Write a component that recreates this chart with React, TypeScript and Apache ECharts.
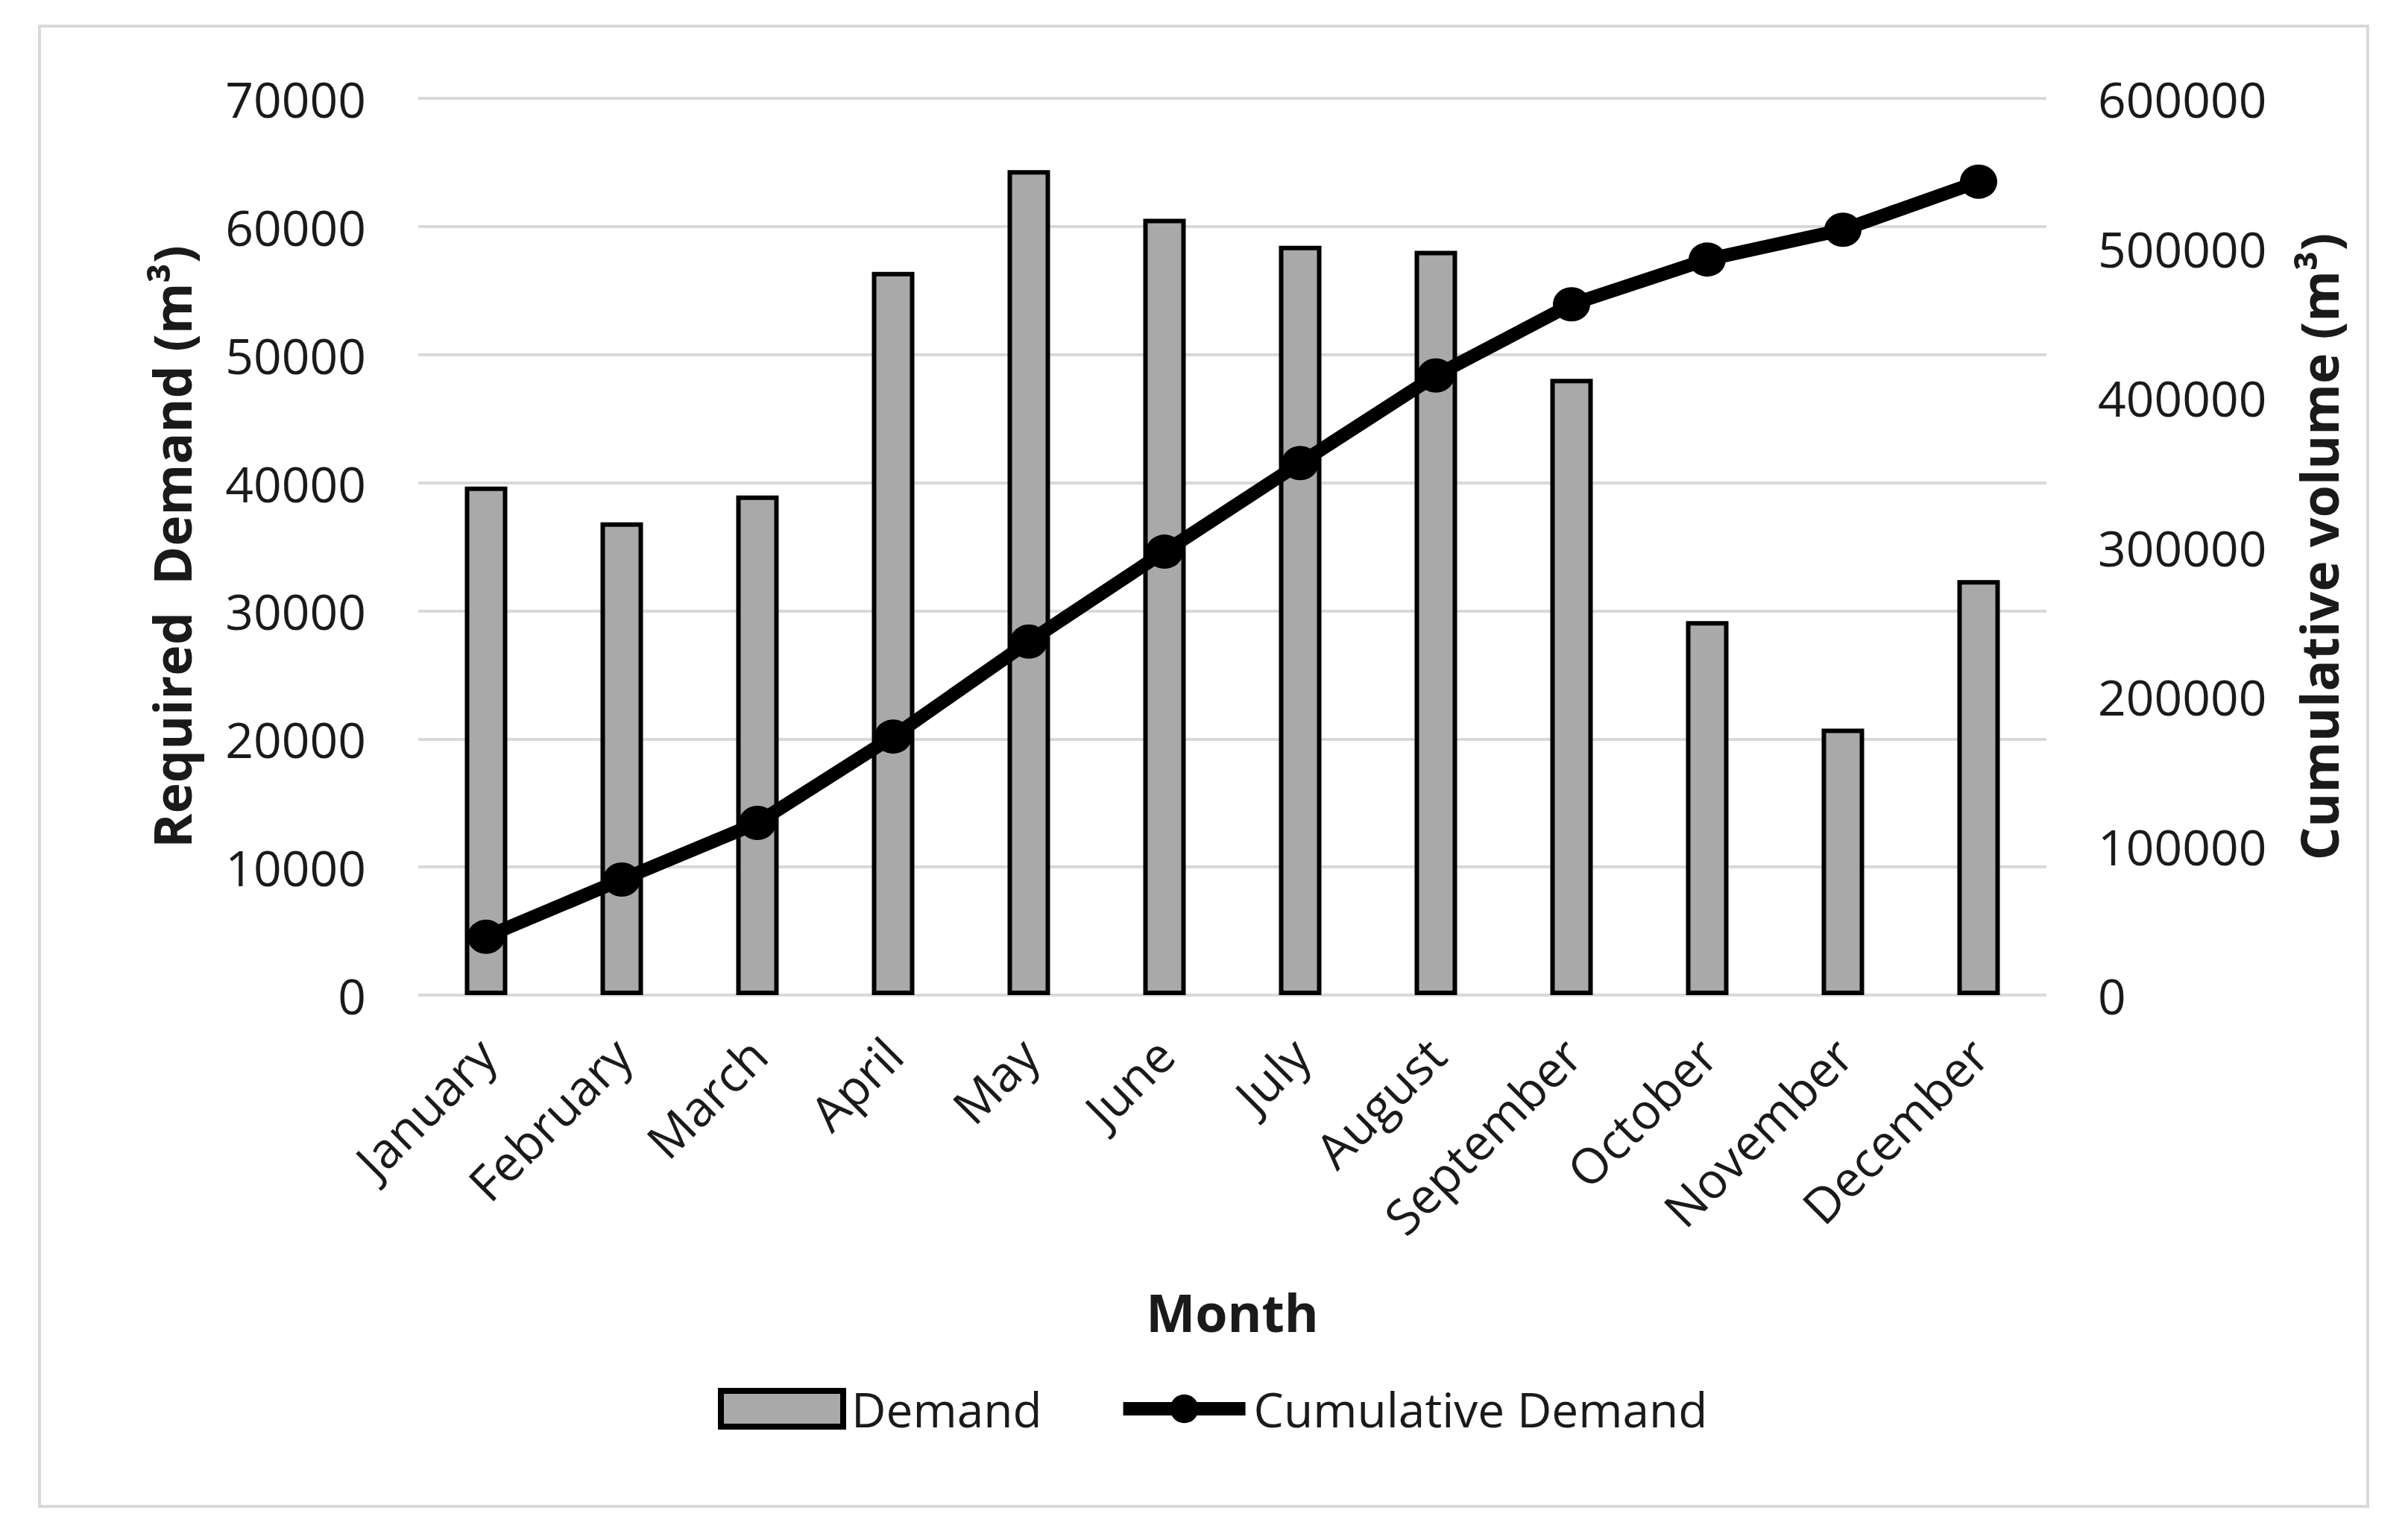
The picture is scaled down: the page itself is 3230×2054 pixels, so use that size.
import React, { useEffect, useRef } from 'react';
import * as echarts from 'echarts';

const months = ['January', 'February', 'March', 'April', 'May', 'June', 'July', 'August', 'September', 'October', 'November', 'December'];
const demand = [39700, 36900, 39000, 56450, 64400, 60600, 58500, 58100, 48100, 29200, 20800, 32400];
const cumulative = [39000, 77300, 115200, 173000, 236500, 296700, 356000, 414600, 462200, 492200, 512100, 544300];
const leftAxis = { min: 0, max: 70000, interval: 10000 };
const rightAxis = { min: 0, max: 600000, interval: 100000 };
const seriesNames = ['Demand', 'Cumulative Demand'];
const axisTitles = { x: 'Month', left: 'Required  Demand (m³)', right: 'Cumulative volume (m³)' };

const FONT = '"Open Sans", "Noto Sans", sans-serif';
const TEXT = '#1a1a1a';

export default function App() {
  const ref = useRef<HTMLDivElement>(null);
  useEffect(() => {
    if (!ref.current) return;
    const chart = echarts.init(ref.current, undefined, { renderer: 'svg' });
    const plain = (v: number) => String(v);
    chart.setOption({
      animation: false,
      backgroundColor: '#ffffff',
      textStyle: { fontFamily: FONT },
      graphic: [
        {
          type: 'rect',
          shape: { x: 53, y: 35, width: 3123, height: 1986 },
          style: { fill: 'none', stroke: '#d9d9d9', lineWidth: 4 },
          z: -1,
          silent: true,
        },
      ],
      grid: { left: 561, right: 485, top: 132, bottom: 719, containLabel: false },
      legend: {
        left: 958,
        top: 1853,
        itemWidth: 164,
        itemHeight: 48,
        itemGap: 100,
        textStyle: { fontSize: 64, color: TEXT, fontFamily: FONT, padding: [0, 0, 0, 6] },
        data: [
          { name: seriesNames[0], icon: 'rect', itemStyle: { color: '#a9a9a9', borderColor: '#000000', borderWidth: 8 } },
          { name: seriesNames[1], itemStyle: { color: '#000000' }, lineStyle: { color: '#000000', width: 18 } },
        ],
      },
      xAxis: {
        type: 'category',
        data: months,
        name: axisTitles.x,
        nameLocation: 'middle',
        nameGap: 390,
        nameTextStyle: { fontSize: 70, fontWeight: 'bold', color: TEXT, fontFamily: FONT },
        axisLine: { show: false },
        axisTick: { show: false },
        axisLabel: { interval: 0, rotate: 45, fontSize: 66, color: TEXT, margin: 68, fontFamily: FONT },
        splitLine: { show: false },
      },
      yAxis: [
        {
          type: 'value',
          min: leftAxis.min,
          max: leftAxis.max,
          interval: leftAxis.interval,
          name: axisTitles.left,
          nameLocation: 'middle',
          nameRotate: 90,
          nameGap: 296,
          nameTextStyle: { fontSize: 70, fontWeight: 'bold', color: TEXT, fontFamily: FONT },
          axisLine: { show: false },
          axisTick: { show: false },
          axisLabel: { fontSize: 66, color: TEXT, margin: 70, fontFamily: FONT, formatter: plain },
          splitLine: { show: true, lineStyle: { color: '#d9d9d9', width: 4 } },
        },
        {
          type: 'value',
          position: 'right',
          min: rightAxis.min,
          max: rightAxis.max,
          interval: rightAxis.interval,
          name: axisTitles.right,
          nameLocation: 'middle',
          nameRotate: 90,
          nameGap: 330,
          nameTextStyle: { fontSize: 70, fontWeight: 'bold', color: TEXT, fontFamily: FONT },
          axisLine: { show: false },
          axisTick: { show: false },
          axisLabel: { fontSize: 66, color: TEXT, margin: 69, fontFamily: FONT, formatter: plain },
          splitLine: { show: false },
        },
      ],
      series: [
        {
          name: seriesNames[0],
          type: 'bar',
          data: demand,
          yAxisIndex: 0,
          barWidth: 57,
          itemStyle: { color: '#a9a9a9', borderColor: '#000000', borderWidth: 6 },
          z: 2,
        },
        {
          name: seriesNames[1],
          type: 'line',
          data: cumulative,
          yAxisIndex: 1,
          symbol: 'circle',
          symbolSize: [50, 46],
          lineStyle: { color: '#000000', width: 18 },
          itemStyle: { color: '#000000' },
          z: 3,
        },
      ],
    });
    return () => chart.dispose();
  }, []);
  return <div ref={ref} style={{ position: 'fixed', left: 0, top: 0, width: '3230px', height: '2054px' }} />;
}
